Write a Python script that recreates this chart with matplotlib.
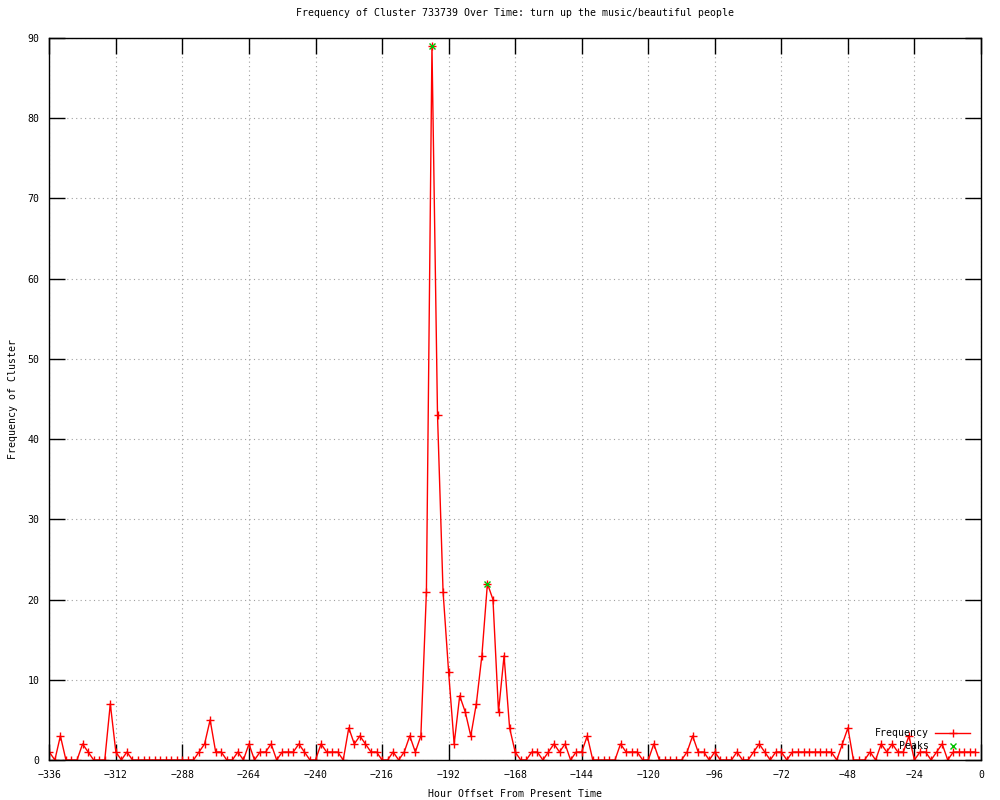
import numpy as np
import matplotlib
matplotlib.use("Agg")
import matplotlib.pyplot as plt

# hours before present (every 2 h) and cluster counts
hours = np.arange(-336, 0, 2)
freq = [1, 0, 3, 0, 0, 0, 2, 1, 0, 0, 0, 7, 1, 0, 1, 0,
        0, 0, 0, 0, 0, 0, 0, 0, 0, 0, 0,
        1, 2, 5, 1, 1, 0, 0, 1, 0, 2, 0, 1, 1, 2, 0, 1, 1, 1, 2, 1, 0, 0,
        2, 1, 1, 1, 0, 4, 2, 3, 2, 1, 1, 0, 0, 1, 0, 1, 3, 1, 3,
        21, 89, 43, 21, 11, 2, 8, 6, 3, 7, 13, 22, 20, 6, 13, 4, 1,
        0, 0, 1, 1, 0, 1, 2, 1, 2, 0, 1, 1, 3, 0, 0, 0, 0, 0,
        2, 1, 1, 1, 0, 0, 2, 0, 0, 0, 0, 0, 1, 3, 1, 1, 0, 1, 0, 0, 0,
        1, 0, 0, 1, 2, 1, 0, 1, 1, 0, 1,
        1, 1, 1, 1, 1, 1, 1, 0, 2, 4, 0, 0, 0, 1, 0, 2, 1, 2, 1, 1, 3,
        0, 1, 1, 0, 1, 2, 0, 1, 1, 1, 1, 1]
peak_hours = [-198, -178]
peak_vals = [89, 22]

xticks = np.arange(-336, 1, 24)
yticks = np.arange(0, 91, 10)

font = "DejaVu Sans Mono"
fs = 7.1

fig = plt.figure(figsize=(10, 8), dpi=100)
ax = fig.add_axes([0.0493, 0.05, 0.9317, 0.9025])

ax.plot(hours, freq, color="red", lw=1, marker="+", ms=6, mew=1,
        label="Frequency")
ax.plot(peak_hours, peak_vals, ls="none", color="#00c000", marker="x",
        ms=5, mew=1, label="Peaks")

ax.set_xlim(-336, 0)
ax.set_ylim(0, 90)
ax.set_xticks(xticks)
ax.set_yticks(yticks)
ax.grid(True, color="#a0a0a0", lw=0.8, linestyle=(0, (1, 3)))
ax.tick_params(direction="in", top=True, right=True, length=11.5, width=1,
               labelsize=fs, pad=7)
for lab in ax.get_xticklabels() + ax.get_yticklabels():
    lab.set_fontfamily(font)
for sp in ax.spines.values():
    sp.set_linewidth(1)

ax.set_title("Frequency of Cluster 733739 Over Time: turn up the music/beautiful people",
             fontsize=fs, family=font, pad=16)
ax.set_xlabel("Hour Offset From Present Time", fontsize=fs, family=font,
              labelpad=7)
ax.set_ylabel("Frequency of Cluster", fontsize=fs, family=font, labelpad=7)

leg = ax.legend(loc="lower right", bbox_to_anchor=(0.995, 0.004), frameon=False,
                markerfirst=False, handlelength=3.6, labelspacing=0.3,
                handletextpad=0.6, borderaxespad=0.2,
                prop={"family": font, "size": fs})
for t in leg.get_texts():
    t.set_ha("right")

fig.savefig("out.png", dpi=100)
